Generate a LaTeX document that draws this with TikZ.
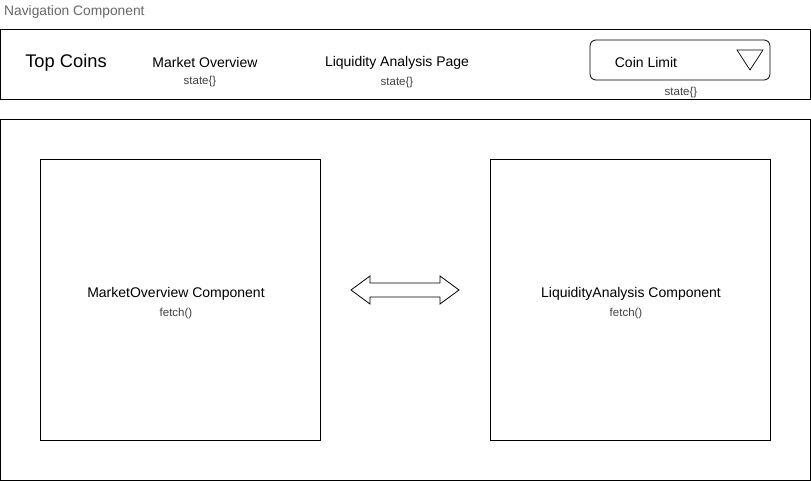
\documentclass[tikz,border=0pt]{standalone}
\usepackage{fontspec}
\setmainfont{Liberation Sans}
\begin{document}
\begin{tikzpicture}[x=1pt,y=-1pt,
  frame/.style={draw=black,line width=1pt},
  label/.style={inner sep=0pt,font=\fontsize{14}{16}\selectfont,text=black},
  small/.style={inner sep=0pt,font=\fontsize{11.5}{13}\selectfont,text=black!75},
  gray/.style={inner sep=0pt,font=\fontsize{13.8}{16}\selectfont,text=black!60}]
\useasboundingbox (0,0) rectangle (811,481);
% header label
\node[gray,anchor=west] (nav) at (4,12) {Navigation Component};
% navigation bar
\draw[frame] (0.5,30) rectangle (810.5,100);
\node[inner sep=0pt,font=\fontsize{18.3}{20}\selectfont] (top) at (66,63) {Top Coins};
\node[label] (mo) at (205,62.5) {Market Overview};
\node[small] (mos) at (200,81.5) {state\{\}};
\node[label] (la) at (397,62.5) {Liquidity Analysis Page};
\node[small] (las) at (397,82.5) {state\{\}};
% coin limit dropdown
\draw[draw=black,line width=0.8pt,rounded corners=6pt] (590,40) rectangle (770,80);
\node[label] (cl) at (646,62.5) {Coin Limit};
\draw[line width=0.7pt] (737,50) -- (763,50) -- (750,70) -- cycle;
\node[small] (cls) at (681,92.5) {state\{\}};
% content area
\draw[frame] (0.5,120) rectangle (810.5,480.5);
\draw[frame] (40,160) rectangle (320,440);
\draw[frame] (490,160) rectangle (770,440);
\node[label] (moc) at (176,293.5) {MarketOverview Component};
\node[small] (mof) at (176,313.5) {fetch()};
\node[label] (lac) at (631,293.5) {LiquidityAnalysis Component};
\node[small] (laf) at (626,313.5) {fetch()};
% double arrow between components
\draw[line width=0.8pt,fill=white,line join=miter]
  (351,290) -- (370,276) -- (370,283) -- (440,283) -- (440,276) -- (459,290)
  -- (440,304) -- (440,297) -- (370,297) -- (370,304) -- cycle;
\end{tikzpicture}
\end{document}
